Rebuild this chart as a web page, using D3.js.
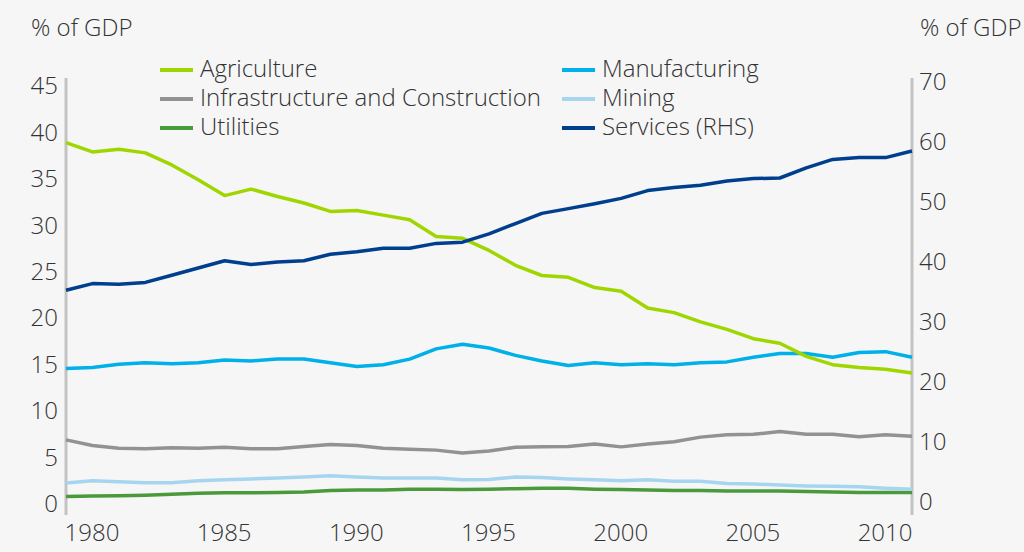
<!DOCTYPE html>
<html><head><meta charset="utf-8">
<script src="https://cdn.jsdelivr.net/npm/d3@7"></script>
<style>
html,body{margin:0;padding:0;background:#f6f6f6;}
svg{display:block;font-family:"Open Sans",sans-serif;font-weight:300;}
</style></head>
<body>
<svg id="c" width="1024" height="552"></svg>
<script>
const years = d3.range(1979, 2012);
const agriculture = [38.9,37.9,38.2,37.8,36.5,34.9,33.2,33.9,33.1,32.4,31.5,31.6,31.1,30.6,28.8,28.6,27.3,25.7,24.6,24.4,23.3,22.9,21.1,20.6,19.6,18.8,17.8,17.3,15.9,15.0,14.7,14.5,14.1];
const infrastructure = [6.9,6.3,6.0,5.95,6.05,6.0,6.1,5.95,5.95,6.2,6.4,6.3,6.0,5.9,5.8,5.5,5.7,6.1,6.15,6.2,6.45,6.15,6.45,6.7,7.2,7.45,7.5,7.8,7.5,7.5,7.25,7.45,7.3];
const utilities = [0.8,0.85,0.9,0.95,1.05,1.15,1.2,1.2,1.25,1.3,1.45,1.5,1.5,1.6,1.6,1.55,1.6,1.65,1.7,1.7,1.6,1.55,1.5,1.45,1.45,1.4,1.4,1.4,1.35,1.3,1.25,1.25,1.25];
const manufacturing = [14.6,14.7,15.05,15.2,15.1,15.2,15.5,15.4,15.6,15.6,15.2,14.8,15.0,15.6,16.7,17.2,16.8,16.0,15.4,14.9,15.2,15.0,15.1,15.0,15.2,15.3,15.8,16.2,16.2,15.8,16.3,16.4,15.8];
const mining = [2.25,2.5,2.4,2.3,2.3,2.5,2.6,2.7,2.8,2.9,3.05,2.9,2.8,2.8,2.8,2.6,2.65,2.9,2.85,2.7,2.6,2.5,2.6,2.45,2.45,2.2,2.15,2.05,1.95,1.9,1.85,1.7,1.6];
const servicesRHS = [35.3,36.4,36.3,36.6,37.8,39.0,40.2,39.6,40.0,40.2,41.3,41.7,42.3,42.3,43.1,43.3,44.7,46.4,48.1,48.9,49.7,50.6,51.9,52.4,52.8,53.5,53.9,54.0,55.7,57.1,57.4,57.4,58.5];
const leftTicks = [0,5,10,15,20,25,30,35,40,45];
const rightTicks = [0,10,20,30,40,50,60,70];
const xTicks = [1980,1985,1990,1995,2000,2005,2010];

const seriesNames = ["Agriculture","Infrastructure and Construction","Utilities","Manufacturing","Mining","Services (RHS)"];
const seriesColors = ["#a0d600","#929292","#4a9a3c","#00b0e8","#a6d5f0","#003e8e"];
const seriesData = [agriculture, infrastructure, utilities, manufacturing, mining, servicesRHS];
const seriesAxis = ["L","L","L","L","L","R"];

const svg = d3.select("#c");
const x = d3.scaleLinear().domain([1979, 2011]).range([66, 912]);
const yL = d3.scaleLinear().domain([0, 45]).range([504, 86]);
const yR = d3.scaleLinear().domain([0, 70]).range([502, 82]);
const textColor = "#333333";
const fs = 24;

// axis lines
svg.append("line").attr("x1",66).attr("x2",66).attr("y1",78).attr("y2",515)
  .attr("stroke","#c3c3c3").attr("stroke-width",3);
svg.append("line").attr("x1",912).attr("x2",912).attr("y1",78).attr("y2",515)
  .attr("stroke","#c3c3c3").attr("stroke-width",3);

function styleText(g){
  g.selectAll("text").attr("font-size",fs).attr("fill",textColor)
   .attr("font-family","'Open Sans',sans-serif").attr("font-weight",300);
}

// left axis
const gL = svg.append("g").attr("transform","translate(58,0)")
  .call(d3.axisLeft(yL).tickValues(leftTicks).tickSize(0).tickPadding(0));
gL.select(".domain").remove();
styleText(gL);

// right axis
const gR = svg.append("g").attr("transform","translate(919,0)")
  .call(d3.axisRight(yR).tickValues(rightTicks).tickSize(0).tickPadding(0));
gR.select(".domain").remove();
styleText(gR);

// x axis
const gX = svg.append("g").attr("transform","translate(-1,524)")
  .call(d3.axisBottom(x).tickValues(xTicks).tickFormat(d3.format("d")).tickSize(0).tickPadding(0));
gX.select(".domain").remove();
styleText(gX);

// axis titles
svg.append("text").attr("x",31).attr("y",36).attr("font-size",fs).attr("fill",textColor).text("% of GDP");
svg.append("text").attr("x",920).attr("y",36).attr("font-size",fs).attr("fill",textColor).text("% of GDP");

// lines
const order = [2,4,1,3,0,5];
order.forEach(i => {
  const yS = seriesAxis[i] === "R" ? yR : yL;
  const line = d3.line().x((d,j) => x(years[j])).y(d => yS(d));
  svg.append("path").datum(seriesData[i]).attr("d", line)
    .attr("fill","none").attr("stroke",seriesColors[i]).attr("stroke-width",3.5)
    .attr("stroke-linejoin","round");
});

// legend
const legX = [160, 562];
const legY = [69, 98, 127];
seriesNames.forEach((n,i) => {
  const col = Math.floor(i/3), row = i%3;
  const g = svg.append("g").attr("transform",`translate(${legX[col]},${legY[row]})`);
  g.append("line").attr("x1",0).attr("x2",33).attr("y1",1).attr("y2",1)
    .attr("stroke",seriesColors[i]).attr("stroke-width",4);
  g.append("text").attr("x",40).attr("y",0).attr("dy","0.33em")
    .attr("font-size",fs).attr("fill",textColor).text(n);
});
</script>
</body></html>
